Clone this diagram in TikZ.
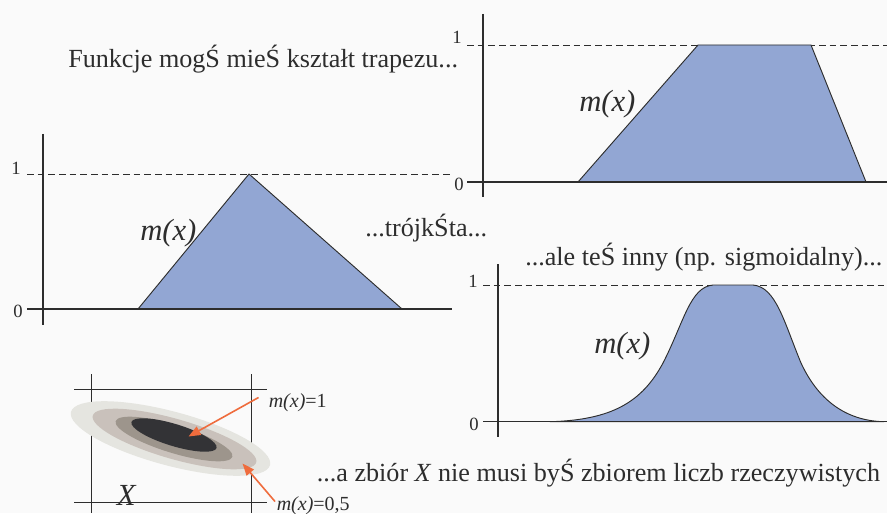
\documentclass[tikz,border=0pt]{standalone}
\usepackage{fontspec}
\setmainfont{Liberation Serif}
\usetikzlibrary{arrows.meta}

\definecolor{paper}{RGB}{250,250,250}
\definecolor{ink}{RGB}{45,45,45}
\definecolor{mfblue}{RGB}{146,166,211}
\definecolor{setlight}{RGB}{229,229,224}
\definecolor{setmid}{RGB}{201,193,187}
\definecolor{setdark}{RGB}{157,149,140}
\definecolor{setcore}{RGB}{51,51,54}
\definecolor{pointer}{RGB}{239,108,61}

\begin{document}
\begin{tikzpicture}[
  x=0.75pt, y=-0.75pt,
  axis/.style = {draw=ink, line width=0.8pt},
  level/.style = {draw=ink, line width=0.6pt, dash pattern=on 5pt off 3pt},
  mf/.style = {fill=mfblue, draw=ink, line width=0.7pt, line join=round},
  caption/.style = {text=ink, inner sep=0pt, anchor=base west, font=\fontsize{19.6}{22}\selectfont},
  tick/.style = {text=ink, inner sep=0pt, font=\fontsize{14}{16}\selectfont},
  mlabel/.style = {text=ink, inner sep=0pt, anchor=base west, font=\fontsize{23}{26}\selectfont\itshape},
  grade/.style = {text=ink, inner sep=0pt, anchor=base west, font=\fontsize{15}{17}\selectfont},
  frame/.style = {draw=ink, line width=0.6pt},
  arr/.style = {-{Triangle[length=9pt, width=7pt]}, draw=pointer, fill=pointer, line width=1.2pt},
]
  \useasboundingbox[fill=paper] (0,0) rectangle (887,513);

  % trapezoid
  \draw[level] (467,45) -- (887,45);
  \draw[mf] (578,182) -- (698,45) -- (811,45) -- (866,182) -- cycle;
  \draw[axis] (467,182) -- (887,182);
  \draw[axis] (483,14) -- (483,197);
  \node[tick, anchor=base east] (trap1) at (462,43.5) {1};
  \node[tick, anchor=east] (trap0) at (464,184) {0};
  \node[mlabel] (trapm) at (579,112) {m(x)};

  % triangle
  \draw[level] (27,174) -- (452,174);
  \draw[mf] (138,309) -- (249,174) -- (402,309) -- cycle;
  \draw[axis] (27,309) -- (452,309);
  \draw[axis] (43,134) -- (43,325);
  \node[tick, anchor=base east] (tri1) at (21,175) {1};
  \node[tick, anchor=east] (tri0) at (23,311) {0};
  \node[mlabel] (trim) at (140,240) {m(x)};

  % sigmoid
  \draw[level] (483,285) -- (887,285);
  \draw[mf] (550,421.7) .. controls (612,420) and (642,402) .. (663,363)
    .. controls (684,322) and (690,287) .. (713,285) -- (753,285)
    .. controls (776,287) and (784,322) .. (801,363)
    .. controls (820,404) and (850,421) .. (884,421.7) -- cycle;
  \draw[axis] (483,421.7) -- (887,421.7);
  \draw[axis] (498,264) -- (498,437);
  \node[tick, anchor=base east] (sig1) at (478,287) {1};
  \node[tick, anchor=east] (sig0) at (479,424) {0};
  \node[mlabel] (sigm) at (594,353) {m(x)};

  % set X
  \draw[frame] (91,374) -- (91,513);
  \draw[frame] (251,374) -- (251,513);
  \draw[frame] (74,389) -- (267,389);
  \draw[frame] (74,502) -- (267,502);
  \fill[setlight, shift={(170.5,438.5)}, rotate=-15] (0,0) ellipse [x radius=103, y radius=27];
  \fill[setmid, shift={(174.5,439)}, rotate=-16] (0,0) ellipse [x radius=85, y radius=20];
  \fill[setdark, shift={(174,439)}, rotate=-17] (0,0) ellipse [x radius=61, y radius=14];
  \fill[setcore, shift={(174,435)}, rotate=-17] (0,0) ellipse [x radius=44.5, y radius=11];
  \node[text=ink, inner sep=0pt, anchor=base west, font=\fontsize{23}{26}\selectfont\itshape] (setX) at (116.5,505) {X};
  \node[grade] (full) at (268.5,407) {\textit{m(x)}=1};
  \node[grade] (half) at (276.5,510) {\textit{m(x)}=0,5};
  \coordinate (fullfrom) at (258.5,397.5);
  \coordinate (fullto) at (188.5,436.5);
  \coordinate (halffrom) at (275,501.5);
  \coordinate (halfto) at (242.5,463.5);
  \draw[arr] (fullfrom) -- (fullto);
  \draw[arr] (halffrom) -- (halfto);

  % captions
  \node[caption] (trapcap) at (68,68) {Funkcje mogŚ mieŚ kształt trapezu...};
  \node[caption] (tricap) at (365,236.5) {...trójkŚta...};
  \node[caption] (sigcap) at (525,265) {...ale teŚ inny (np. sigmoidalny)...};
  \node[caption] (setcap) at (316.5,481.5) {...a zbiór \textit{X} nie musi byŚ zbiorem liczb rzeczywistych};
\end{tikzpicture}
\end{document}
